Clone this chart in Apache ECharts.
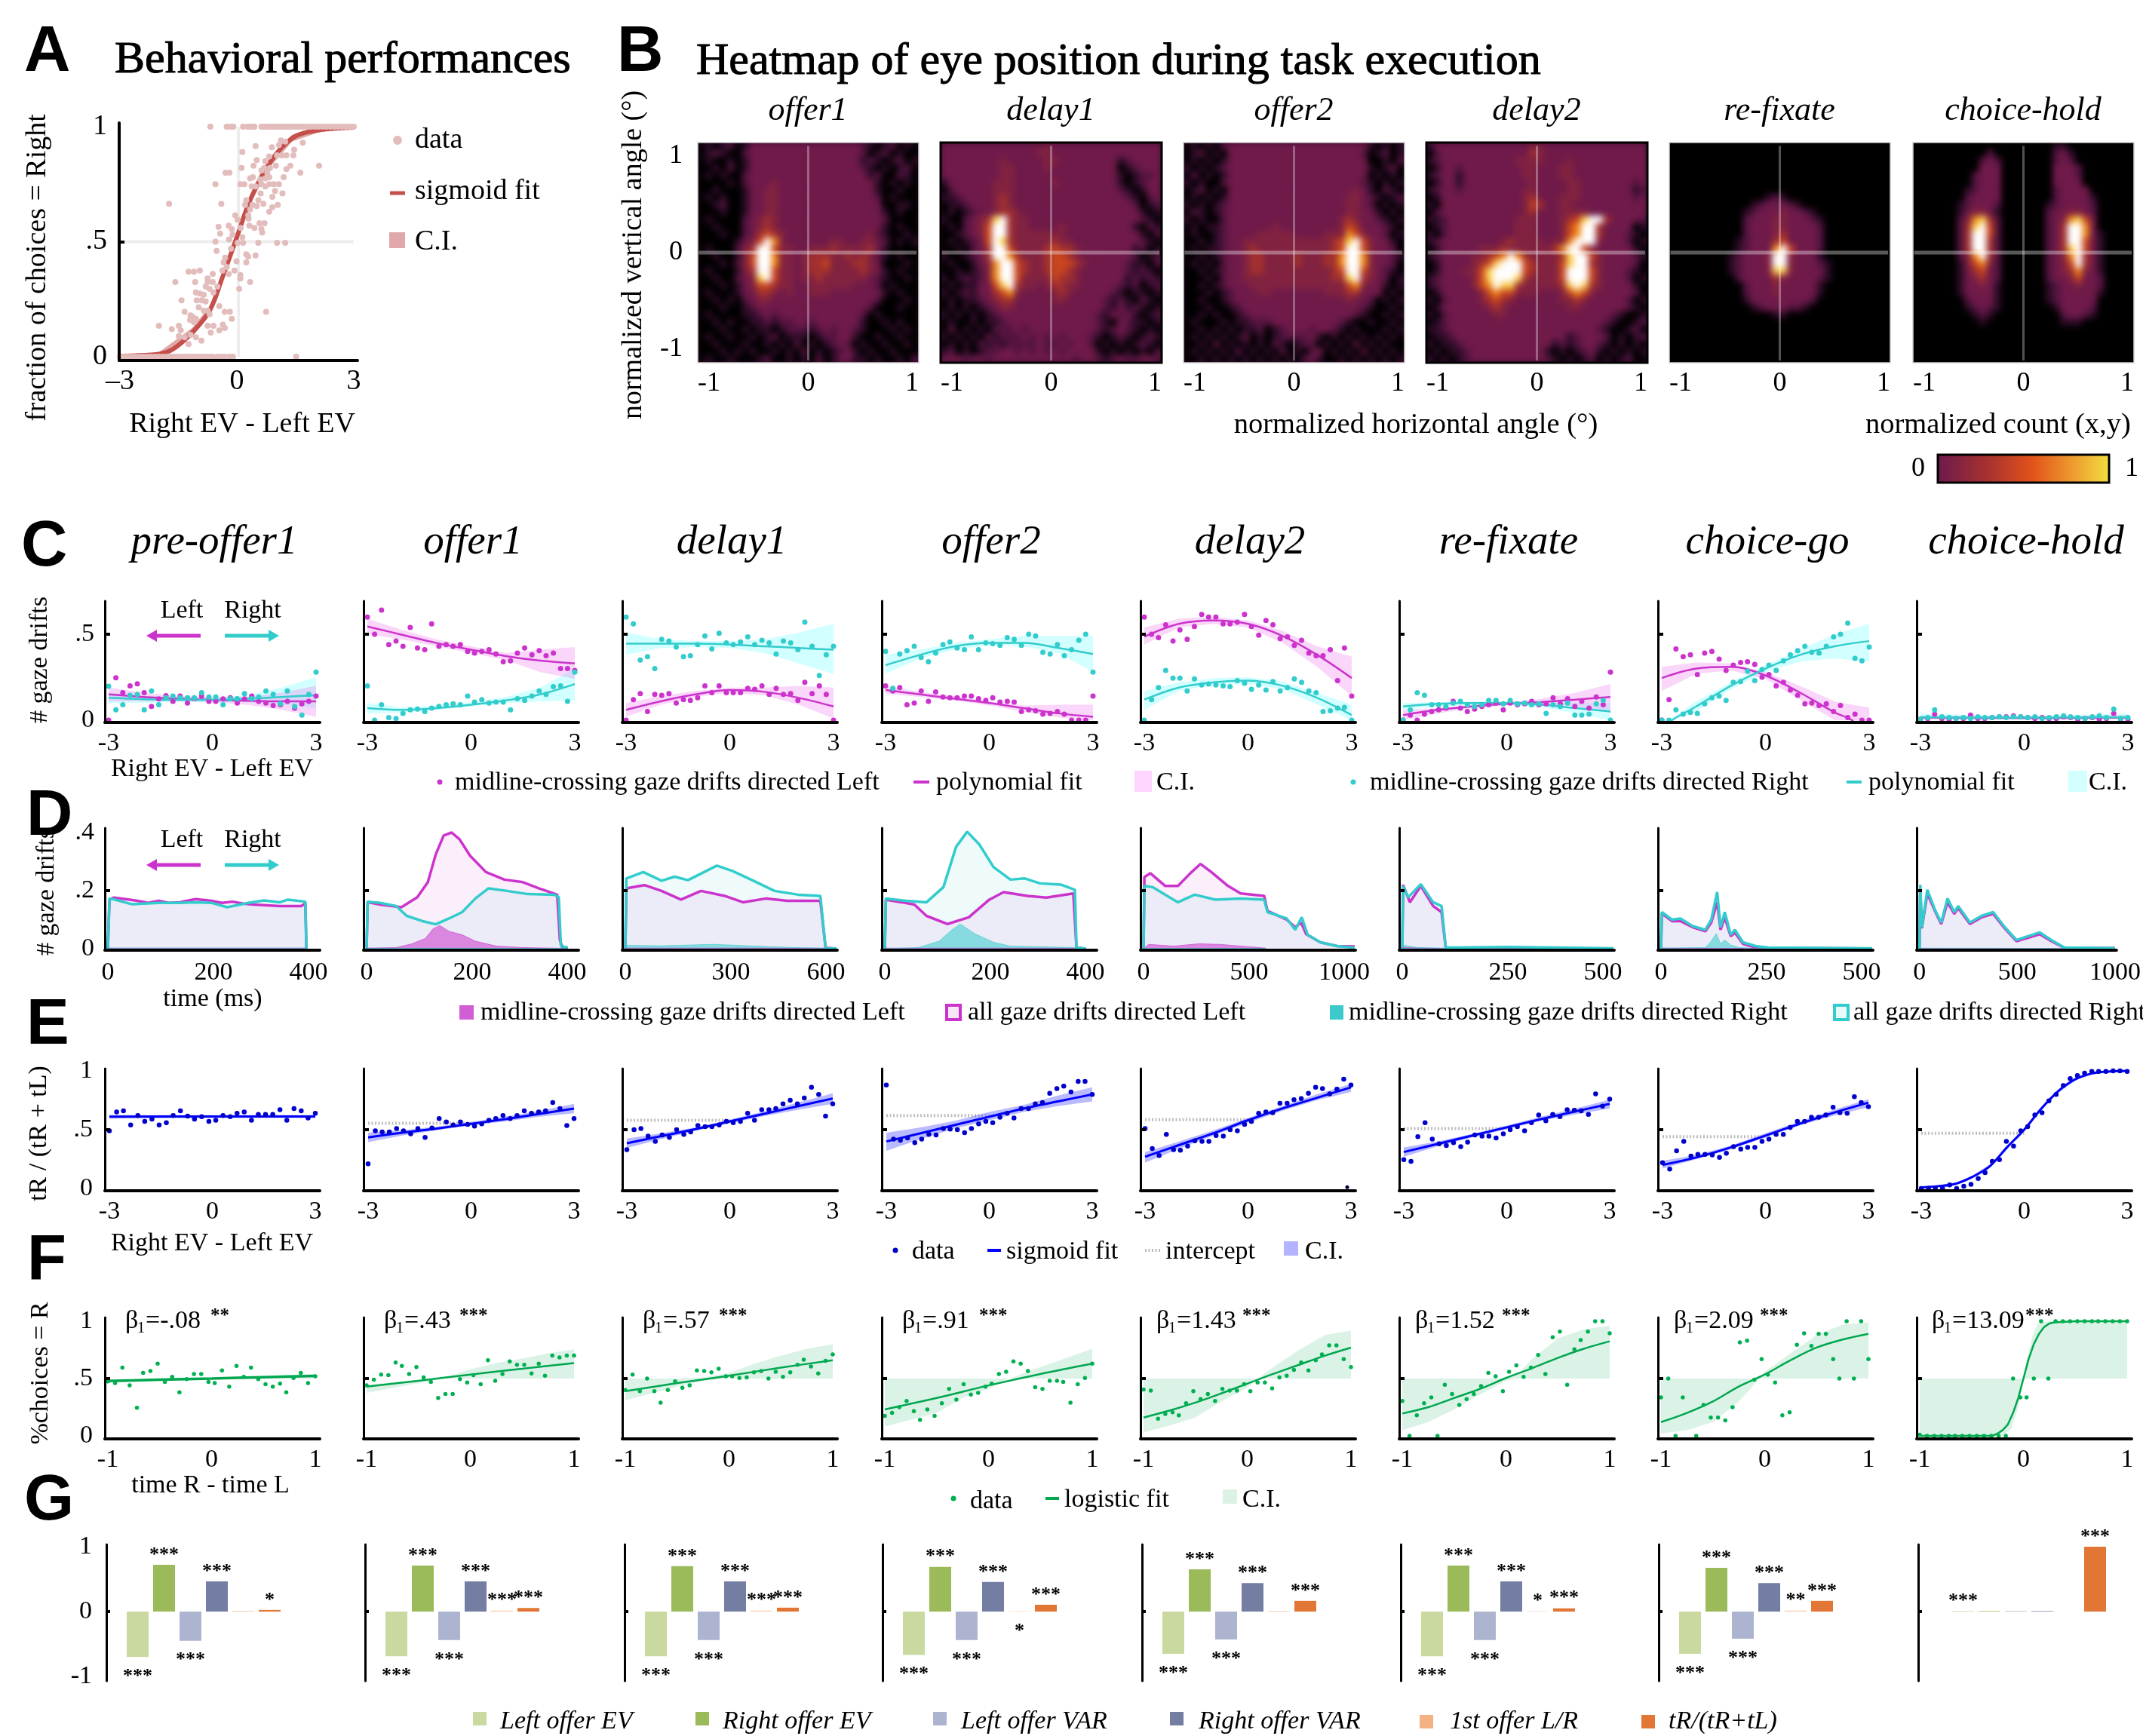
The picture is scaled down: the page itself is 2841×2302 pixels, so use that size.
<!DOCTYPE html>
<html><head><meta charset="utf-8"><style>html,body{margin:0;padding:0;background:#fff}#c{width:2841px;height:2302px}
canvas[data-zr-dom-id="zr_1"]{filter:blur(4px);clip-path:path('M925 189h293v292h-293z M1247 189h293v292h-293z M1569 189h293v292h-293z M1891 189h293v292h-293z M2213 189h293v292h-293z M2536 189h293v292h-293z');}
</style>
<script src="https://cdn.jsdelivr.net/npm/echarts@6/dist/echarts.min.js"></script></head><body><div id="c"></div>
<script>
// ---------- DATA ----------
const evBins=[-3,-2.79,-2.59,-2.38,-2.17,-1.97,-1.76,-1.55,-1.34,-1.14,-.93,-.72,-.52,-.31,-.1,.1,.31,.52,.72,.93,1.14,1.34,1.55,1.76,1.97,2.17,2.38,2.59,2.79,3];
const timeBins=[-1,-.93,-.86,-.79,-.72,-.66,-.59,-.52,-.45,-.38,-.31,-.24,-.17,-.1,-.03,.03,.1,.17,.24,.31,.38,.45,.52,.59,.66,.72,.79,.86,.93,1];
const cTitles=['pre-offer1','offer1','delay1','offer2','delay2','re-fixate','choice-go','choice-hold'];
const bTitles=['offer1','delay1','offer2','delay2','re-fixate','choice-hold'];
// Panel A
const aPts=[[2.11,.83],[1.69,.93],[1.63,.8],[1.37,.83],[1.27,.815],[1.2,.78],[1.17,.71],[1.45,.875],[1.47,.9],[1.27,.875],[1.15,.875],[1.03,.875],[1.24,.935],[1.13,.94],[1.08,.92],[.9,.91],[.83,.87],[.73,.85],[.51,.855],[.43,.83],[.48,.915],[.14,.89],[.12,.82],[-.19,.8],[-.29,.8],[-.55,.75],[.09,.75],[.19,.75],[.34,.775],[.41,.78],[.63,.81],[.78,.8],[.83,.78],[.73,.775],[.63,.75],[.73,.74],[.83,.75],[.95,.75],[1.08,.75],[.98,.72],[.91,.695],[1.05,.66],[.91,.65],[.83,.63],[.68,.665],[.55,.68],[.61,.71],[.48,.74],[.38,.74],[.24,.68],[.21,.66],[.34,.64],[.51,.655],[-1.74,.665],[-.4,.665],[-.04,.615],[.02,.595],[.29,.615],[.58,.58],[.71,.58],[.63,.555],[.65,.54],[.32,.57],[.45,.56],[-.47,.565],[-.21,.57],[-.13,.555],[-.43,.535],[-.11,.53],[.14,.52],[.16,.495],[-.55,.5],[.02,.495],[.55,.495],[1.03,.495],[1.24,.495],[-.52,.46],[.24,.445],[.48,.44],[.29,.435],[-.01,.415],[.24,.41],[-.34,.41],[-.26,.39],[-.06,.375],[-.37,.375],[-1.24,.37],[-1.1,.37],[-.95,.375],[-.62,.36],[-.21,.36],[.09,.355],[.09,.34],[-.75,.34],[-1.58,.325],[-1.07,.325],[-.75,.325],[-.62,.325],[.34,.325],[-.8,.305],[-.5,.305],[-.7,.295],[.06,.295],[-1.05,.28],[-.95,.275],[-.85,.27],[-1.42,.245],[-1.03,.245],[-.9,.245],[-.8,.24],[-.45,.22],[-.98,.215],[-1.34,.195],[-1.19,.18],[-1.14,.175],[-1.05,.165],[-.75,.2],[-.7,.185],[-.31,.195],[-.18,.195],[.75,.195],[-.13,.165],[-1.49,.135],[-2,.135],[-1.67,.12],[-1.44,.115],[-.75,.135],[-.6,.135],[-.36,.14],[-.31,.125],[-.45,.115],[-.67,.105],[-1.19,.095],[-1.05,.085],[-.91,.07],[-1.24,.055],[-1.34,.085],[-1.49,.09],[-1.1,.15],[-1.2,.16],[-.15,.47],[-.2,.51],[.1,.56],[.3,.6],[.4,.66],[.6,.77],[.7,.82],[.85,.82],[1,.83],[-.3,.43],[-.6,.28],[-.85,.2]];
const aOnes=[-.68,-.26,-.16,-.09,.16,.27,.33,.38,.45,.63,.68,.73,.78,.85,.9,.95,1,1.05,1.1,1.15,1.2,1.25,1.3,1.36,1.42,1.48,1.55,1.62,1.7,1.8,1.9,2,2.1,2.2,2.3,2.4,2.5,2.6,2.7,2.8,2.9,3];
const aZeros=[-3,-2.9,-2.8,-2.7,-2.6,-2.5,-2.4,-2.3,-2.2,-2.1,-2,-1.9,-1.8,-1.7,-1.6,-1.5,-1.42,-1.34,-1.26,-1.18,-1.1,-1.02,-.94,-.86,-.78,-.7,-.62,-.5,-.42,-.32,-.2,-.14,-.1,1.52];
const aFit=[[-3,.003],[-2.5,.006],[-2,.012],[-1.64,.033],[-1.15,.105],[-.7,.2],[-.36,.35],[0,.52],[.34,.68],[.83,.84],[1.42,.95],[2.1,.985],[3,.996]];
const aBand=[[-3,0,.01],[-2,.005,.02],[-1.15,.085,.125],[-.7,.18,.22],[-.36,.335,.365],[0,.505,.535],[.34,.665,.695],[.83,.82,.86],[1.42,.935,.965],[2.1,.975,.995],[3,.99,1]];
// Panel B: heat levels, one string per row, top row first
const heat1=["010120133333333333333321012010","012100233333333333333320120100","010010133333333333333312101201","001020133333333333333321010120","010100233333333333333331200210","000010233343333333333333101010","001000133443333333333333100100","010100133443333333333333201000","001200133443333333333333300110","000100133443333333333333310100","010000234543333333333333320000","001000234543333333333333310100","000100235654333333333334210010","000001346974333333443344320101","010002459964433444544445310000","001001469974434555445454210100","000102469974434556444554300010","010001459964434555444454310100","001002348964434454444443210010","000101346654433444444333201000","010001335543433444333333310100","001010234433333333333333200010","000100123333333333333332000100","010000112323333333333320100000","001010011212233233333310010100","000100101101222123233210001010","010010010120111012233100100100","001000100101020101232010010010","000101010010102010123101001000","010010001200101020133110100102"];
const heat2=["333333333333334333333333333333","333333333333344333333333333333","333333334333334433333333123333","333333334433334333333333012333","333333334433333333333333101223","133333344433333433333333101233","023333344433333333333333210133","112333345433333333333333321023","011233345433333333333333332012","010123345543333333333333333101","100234589544333333333333333210","010234699544333343333333331021","001234699544444443333333333102","010123698544444544333333333210","001023599644445655433333331201","100123599754445665433333332012","010013479965445666543333321102","001012479965445665433333321210","101212479964444655433333312121","010113368954434554433333212012","101213356743333454333332101101","010112345533333443333321210210","010101234433333333333321312101","101010123333333333333213231012","010010112333333333333210321101","020101022232333333333212321010","101010212223232323332101210121","010102121222232232332010101210","120101223323232323333101010102","333233233333333333233212322332"];
const heat3=["010102333333333333333333310101","012010333333333333333333201201","010101333333333333333333300102","101012333333333333333333310120","020101333333333333333333301010","101002333333333333333333210101","012010333333333333333334310210","010101333333333333333344321012","101012333333333333333344320101","021012333333333333333344331010","101002333333333333333454332101","010112333333433333333465333210","010012333344444333344476433201","001012334444444444445689643310","010112334544444444445699643320","001012334554444544455799743321","010102334554444544455799743320","001012334554444444445699643210","000102334444444444445589543201","001012333444444444444467433101","000101233344333333344455333010","001001233333333333333343320101","000100123333333333333333210010","001010012333333333333332100101","010001011222333333333210010010","001010101120123332332101000101","010101012010122223101010101010","001020101010210122010102010100","010101020101020102301010201010","001010101010101023100101010101"];
const heat4=["133333333333334433333333333333","023333333333335433333333333333","123333333333444433343333333333","013323333333344333443333333333","123313333333344333443333333333","013313333333334333344333333323","123323333333344333344333333312","013333333333345333444333333323","103333333333346533443333333333","023333333333345333444433333333","112333333333444333456899533332","012333333333444333467995333301","102333333333444333467995333210","123333333345444434479994333201","013333344454444445799643333310","123333445679754444589964333321","013333456899965444689954333320","013334468999965444699964333210","123333468999854444699964333201","123333467988544444589854333310","013333346766444333467643333320","102333345654333333445433333201","013333334543333333344333333210","102333333443333333333333321001","012333333333333333333333210012","112333333333333333333332100120","011233333333333333312333201012","101123333333333331212332101010","010112333333333310101231010101","101012333333333321010120101200"];
const heat5=["000000000000000000000000000000","000000000000000000000000000000","000000000000000000000000000000","000000000000000000000000000000","000000000000000000000000000000","000000000000000000000000000000","000000000000000000000000000000","000000000000012100000000000000","000000000001233321000000000000","000000000012333433210000000000","000000000023334433321000000000","000000000023334433332000000000","000000000023334533332000000000","000000000123335633332000000000","000000000123337963332000000000","000000001233349943331000000000","000000001233349943332100000000","000000001233348843333100000000","000000000233335433332100000000","000000000023334333331000000000","000000000023334333331000000000","000000000013333333320000000000","000000000001233322100000000000","000000000000001100000000000000","000000000000000000000000000000","000000000000000000000000000000","000000000000000000000000000000","000000000000000000000000000000","000000000000000000000000000000","000000000000000000000000000000"];
const heat6=["000000000000000000011000000000","000000000020000000023100000000","000000000232000000023200000000","000000000333000000033320000000","000000002333000000033320000000","000000002333000000033330000000","000000012333000000023333000000","000000023333000000023333100000","000000123332000000123333200000","000000134431000000233443200000","000000247852000000234786300000","000000258962000000235997300000","000000259962000000235997310000","000000259952000000235996310000","000000259952000000235896310000","000000247952000000234795310000","000000146742000000234695310000","000000135632000000234574310000","000000134532000000233463320000","000000133431000000123343320000","000000133331000000123333310000","000000023331000000123333300000","000000012321000000013333200000","000000001210000000002332100000","000000000100000000001110000000","000000000000000000000000000000","000000000000000000000000000000","000000000000000000000000000000","000000000000000000000000000000","000000000000000000000000000000"];
const heatLevels=[heat1,heat2,heat3,heat4,heat5,heat6];
const heatColors=['#000000','#2e0c28','#551440','#701a4a','#822240','#a2302f','#c9461f','#f08a18','#fbd050','#ffffff'];
// Panel C
const cLeft=[
[0,.247,.16,.2,.212,.16,.08,.124,.143,.11,.14,.1,.127,.14,.11,.11,.124,.13,.1,.124,.14,.11,.1,.085,.09,.11,.07,.095,.11,.14],
[.6,.5,.64,.44,.46,.43,.54,.42,.41,.56,.43,.44,.43,.44,.4,.39,.4,.41,.385,.34,.345,.39,.42,.38,.405,.375,.39,.3,.3,.29],
[0,.12,.155,.05,.15,.145,.155,.1,.12,.115,.13,.2,.16,.2,.16,.16,.16,.185,.18,.2,.15,.185,.15,.155,.115,.22,.155,.2,.15,0],
[.2,.17,.19,.09,.1,.17,.11,.165,.135,.13,.13,.14,.14,.125,.115,.13,.105,.11,.105,.05,.06,.055,.035,.04,.05,.035,0,0,0,.14],
[.6,.5,.48,.555,.46,.525,.47,.545,.615,.6,.6,.56,.56,.57,.615,.545,.495,.58,.555,.475,.485,.435,.465,.39,.375,.375,.41,.23,.42,.14],
[0,.03,0,.035,.05,.06,.07,.11,.07,.05,.065,.08,.09,.1,.06,.1,.09,.095,.11,.09,.095,.13,.095,.125,.08,.11,.07,.135,.09,.28],
[0,.12,.415,.37,.38,.265,.39,.4,.355,.29,.32,.335,.34,.325,.25,.265,.2,.22,.175,.145,.095,.1,.085,.095,.05,.085,.015,.035,0,0],
[.005,.01,.035,.01,.005,.01,.01,.03,.01,.01,.015,.02,.02,.025,.02,.015,.01,.015,.01,.01,.02,.015,.005,.01,.015,.005,.01,.04,.005,.005]];
const cRight=[
[.197,.06,.09,.145,.15,.06,.17,.09,.13,.14,.13,.13,.13,.16,.135,.135,.09,.125,.125,.155,.125,.135,.17,.15,.095,.17,.08,.03,.15,.28],
[.2,0,.09,.015,.01,.04,.06,.065,.05,.07,.08,.09,.095,.09,.14,.105,.12,.1,.105,.105,.06,.125,.115,.14,.17,.15,.195,.2,.11,.28],
[.6,.56,.35,.37,.3,.47,.46,.425,.37,.375,.44,.49,.415,.505,.45,.44,.455,.485,.44,.465,.45,.385,.46,.45,.41,.57,.43,.26,.38,.43],
[.4,.185,.385,.405,.43,.365,.34,.39,.44,.455,.42,.41,.485,.41,.45,.445,.435,.48,.47,.435,.5,.49,.395,.385,.44,.375,.41,.465,.5,.28],
[0,.12,.19,.29,.245,.245,.17,.24,.205,.21,.205,.2,.195,.23,.215,.18,.205,.175,.225,.17,.19,.24,.22,.17,.16,.05,.055,.07,.075,0],
[0,.06,.16,.145,.09,.09,.08,.1,.11,.09,.08,.09,.115,.115,.095,.115,.095,.1,.09,.095,.04,.09,.08,.1,.03,.03,.035,.095,.115,0],
[0,0,.06,.035,.045,.04,.095,.13,.14,.115,.22,.225,.285,.23,.295,.32,.29,.345,.38,.405,.43,.395,.39,.43,.485,.5,.565,.36,.345,.425],
[.005,.015,.06,.02,.015,.01,.015,.01,.02,.015,.015,.02,.015,.02,.02,.015,.02,.01,.015,.02,.025,.02,.015,.01,.02,.025,.015,.065,.01,.015]];
// rows: [x, fit, lower, upper]
const cLeftFit=[
[[-3,.15,.11,.19],[-2,.135,.11,.16],[-1,.125,.11,.14],[0,.118,.105,.135],[1,.113,.09,.135],[2,.11,.06,.16],[3,.11,.02,.2]],
[[-3,.545,.5,.59],[-2,.497,.47,.525],[-1,.449,.43,.47],[0,.41,.39,.43],[1,.373,.35,.39],[2,.346,.28,.41],[3,.33,.24,.425]],
[[-3,.06,.02,.1],[-2,.11,.09,.14],[-1,.15,.135,.17],[0,.175,.16,.19],[1,.165,.145,.19],[2,.13,.09,.2],[3,.08,.01,.19]],
[[-3,.175,.155,.2],[-2,.15,.135,.165],[-1,.125,.115,.14],[0,.1,.085,.11],[1,.07,.05,.085],[2,.04,.015,.09],[3,.02,0,.09]],
[[-3,.485,.44,.54],[-2,.56,.54,.59],[-1,.58,.56,.6],[0,.56,.54,.58],[1,.49,.45,.52],[2,.38,.31,.43],[3,.245,.14,.37]],
[[-3,.03,0,.06],[-2,.06,.04,.07],[-1,.08,.07,.09],[0,.095,.085,.105],[1,.105,.09,.125],[2,.12,.08,.16],[3,.135,.045,.21]],
[[-3,.245,.17,.31],[-2,.3,.27,.335],[-1,.31,.29,.33],[0,.26,.24,.28],[1,.16,.12,.2],[2,.045,0,.11],[2.5,0,0,.09],[3,-.1,0,.075]],
[[-3,.015,.005,.025],[0,.012,.005,.02],[3,.015,.005,.03]]];
const cRightFit=[
[[-3,.13,.1,.16],[-2,.122,.1,.14],[-1,.118,.105,.135],[0,.118,.105,.13],[1,.125,.105,.145],[2,.135,.09,.19],[3,.145,.07,.25]],
[[-3,.07,.04,.1],[-2,.06,.045,.075],[-1,.07,.06,.085],[0,.09,.08,.105],[1,.115,.1,.135],[2,.15,.11,.19],[3,.21,.115,.3]],
[[-3,.445,.38,.51],[-2,.445,.42,.47],[-1,.445,.425,.46],[0,.44,.42,.46],[1,.43,.39,.47],[2,.42,.33,.51],[3,.41,.27,.56]],
[[-3,.32,.27,.38],[-2,.38,.36,.41],[-1,.43,.41,.45],[0,.45,.435,.47],[1,.45,.43,.49],[2,.42,.39,.49],[3,.385,.28,.49]],
[[-3,.12,.06,.17],[-2,.19,.17,.22],[-1,.22,.205,.245],[0,.23,.21,.25],[1,.2,.18,.225],[2,.13,.09,.16],[3,.03,0,.09]],
[[-3,.08,.06,.1],[-2,.095,.08,.105],[-1,.1,.09,.11],[0,.1,.09,.11],[1,.09,.075,.105],[2,.07,.04,.1],[3,.05,0,.1]],
[[-3,-.06,0,0],[-2.7,0,0,.015],[-2,.08,.05,.11],[-1,.2,.18,.22],[0,.3,.28,.32],[1,.38,.34,.41],[2,.43,.36,.5],[3,.46,.34,.56]],
[[-3,.018,.005,.04],[0,.015,.008,.022],[3,.018,.005,.04]]];
// Panel D: [time ms, value]
const dLeftAll=[
[[0,0],[1,0],[3,.169],[11,.176],[36,.17],[56,.165],[76,.158],[96,.165],[116,.158],[136,.16],[166,.171],[196,.165],[216,.158],[236,.162],[256,.155],[276,.152],[326,.147],[366,.147],[374,.156],[376,0]],
[[0,0],[2,.16],[26,.152],[66,.143],[96,.177],[116,.229],[131,.325],[146,.39],[161,.4],[176,.377],[196,.32],[226,.264],[261,.238],[296,.229],[326,.208],[361,.186],[366,.03],[371,.004],[381,0]],
[[0,0],[3,.208],[54,.219],[103,.199],[158,.169],[215,.199],[282,.182],[334,.16],[401,.173],[460,.165],[554,.165],[569,.003],[600,0]],
[[0,0],[2,.169],[32,.16],[56,.152],[79,.113],[119,.085],[159,.108],[198,.169],[225,.195],[270,.182],[306,.176],[357,.19],[363,.004],[381,0]],
[[0,0],[4,.247],[32,.26],[103,.216],[163,.216],[222,.26],[270,.292],[321,.264],[400,.216],[460,.19],[571,.182],[587,.13],[678,.1],[718,.074],[746,.09],[770,.05],[837,.022],[916,.009],[1000,.008]],
[[0,0],[2,.22],[18,.16],[44,.216],[73,.147],[93,.126],[103,.003],[252,.003],[500,0]],
[[0,0],[2,.121],[26,.095],[46,.095],[75,.074],[105,.06],[119,.09],[133,.16],[141,.065],[151,.108],[165,.043],[175,.055],[194,.017],[224,.004],[500,0]],
[[0,0],[4,.2],[12,.07],[40,.19],[79,.13],[111,.085],[143,.16],[178,.12],[198,.14],[258,.085],[317,.108],[377,.12],[436,.07],[496,.026],[615,.05],[674,.026],[741,.003],[1000,.002]]];
const dRightAll=[
[[0,0],[1,0],[3,.173],[11,.17],[46,.153],[96,.158],[136,.158],[166,.16],[196,.158],[226,.143],[266,.158],[296,.166],[326,.16],[341,.169],[374,.162],[376,0]],
[[0,0],[2,.162],[26,.158],[56,.147],[76,.113],[106,.095],[131,.084],[156,.104],[181,.126],[206,.173],[231,.208],[266,.199],[306,.188],[356,.186],[364,.177],[368,.009],[381,.004]],
[[0,0],[3,.242],[51,.264],[103,.234],[140,.248],[178,.236],[260,.286],[304,.268],[357,.238],[424,.199],[491,.186],[554,.182],[569,0],[600,.001]],
[[0,0],[2,.173],[40,.165],[79,.16],[111,.212],[135,.351],[156,.403],[179,.359],[206,.281],[238,.238],[265,.242],[294,.225],[333,.221],[360,.203],[363,.004],[381,0]],
[[0,0],[4,.216],[44,.212],[103,.186],[163,.16],[242,.186],[341,.169],[460,.173],[571,.169],[587,.126],[678,.104],[718,.065],[749,.108],[777,.048],[837,.022],[916,.009],[1000,.003]],
[[0,0],[2,.216],[14,.177],[44,.222],[73,.16],[93,.147],[103,.004],[123,.004],[252,.006],[500,.001]],
[[0,0],[2,.126],[26,.1],[46,.104],[75,.078],[105,.065],[119,.1],[133,.195],[141,.074],[151,.126],[165,.048],[175,.065],[194,.022],[224,.009],[254,.004],[500,.001]],
[[0,0],[4,.22],[12,.074],[40,.203],[79,.134],[111,.09],[143,.173],[178,.126],[198,.147],[258,.09],[317,.113],[377,.126],[436,.074],[496,.03],[615,.056],[674,.03],[741,.004],[1000,.002]]];
const dLeftCross=[
[[0,.002],[376,.002]],
[[0,.002],[56,.004],[86,.017],[111,.035],[126,.069],[139,.08],[156,.06],[181,.048],[206,.026],[246,.009],[296,.004],[356,.002],[381,.001]],
[[0,.002],[569,.002]],
[[0,.002],[363,.002]],
[[0,0],[24,.015],[143,.009],[262,.017],[361,.015],[460,.009],[579,.002]],
[[0,.004],[103,.001]],[[0,.002],[220,.001]],[[0,.001],[741,.001]]];
const dRightCross=[
[[0,.002],[376,.002]],
[[0,.002],[381,.001]],
[[0,.012],[100,.01],[250,.015],[350,.01],[480,.004],[569,.002]],
[[0,0],[63,.004],[103,.026],[127,.065],[143,.085],[170,.052],[206,.022],[238,.009],[357,.004],[381,0]],
[[0,.001],[579,.001]],
[[0,.013],[34,.004],[103,.002]],
[[0,.002],[105,.004],[119,.026],[131,.052],[141,.017],[151,.03],[165,.013],[185,.004],[250,0]],
[[0,.002],[741,.001]]];
const dTicks=[[0,200,400],[0,200,400],[0,300,600],[0,200,400],[0,500,1000],[0,250,500],[0,250,500],[0,500,1000]];
// Panel E
const eDots=[
[.49,.65,.66,.54,.62,.57,.59,.54,.56,.62,.66,.615,.59,.61,.57,.58,.62,.61,.64,.65,.58,.63,.63,.63,.67,.58,.68,.66,.6,.64],
[.21,.49,.48,.48,.51,.49,.465,.51,.435,.515,.595,.565,.54,.565,.545,.53,.55,.58,.595,.62,.595,.62,.66,.64,.65,.66,.73,.68,.535,.595],
[.33,.5,.51,.445,.4,.455,.435,.5,.46,.48,.535,.525,.525,.54,.57,.56,.57,.64,.58,.67,.67,.68,.72,.75,.72,.77,.86,.8,.615,.72],
[.88,.42,.41,.43,.39,.42,.46,.455,.51,.505,.5,.475,.51,.55,.57,.56,.605,.64,.6,.68,.68,.72,.73,.81,.85,.87,.82,.91,.91,.8],
[.51,.34,.28,.46,.33,.325,.36,.405,.4,.4,.45,.445,.5,.49,.545,.57,.64,.65,.645,.725,.725,.755,.765,.81,.86,.85,.805,.845,.93,.88],
[.245,.23,.44,.56,.42,.38,.365,.39,.355,.395,.455,.445,.445,.43,.465,.5,.525,.49,.56,.625,.575,.63,.61,.67,.665,.66,.63,.805,.7,.76],
[.22,.165,.32,.4,.275,.29,.29,.285,.265,.3,.355,.335,.35,.35,.4,.42,.46,.46,.52,.57,.57,.605,.605,.625,.69,.645,.64,.78,.73,.695],
[0,0,0,0,.03,0,.02,.035,.085,.135,.23,.245,.4,.36,.49,.525,.625,.645,.745,.8,.875,.935,.96,.98,.995,.995,.995,1,1,.995]];
const eStray=[[2.89,.012]];
const eFit=[
[[-3,.61,.595,.625],[0,.612,.6,.624],[3,.612,.6,.625]],
[[-3,.435,.395,.475],[-2,.475,.45,.495],[-1,.51,.495,.525],[0,.55,.535,.565],[1,.59,.57,.61],[2,.635,.61,.66],[3,.68,.64,.72]],
[[-3,.385,.345,.425],[-2,.445,.42,.47],[-1,.505,.49,.52],[0,.57,.555,.585],[1,.635,.615,.655],[2,.7,.67,.73],[3,.765,.72,.81]],
[[-3,.4,.32,.475],[-2,.47,.42,.52],[-1,.54,.51,.575],[0,.61,.58,.65],[1,.68,.65,.71],[2,.74,.7,.79],[3,.8,.74,.86]],
[[-3,.27,.22,.31],[-2,.37,.34,.4],[-1,.47,.45,.495],[0,.58,.56,.6],[1,.68,.66,.7],[2,.77,.75,.8],[3,.86,.82,.89]],
[[-3,.31,.27,.35],[-2,.38,.36,.4],[-1,.45,.435,.465],[0,.52,.505,.535],[1,.59,.575,.61],[2,.655,.63,.68],[3,.72,.68,.755]],
[[-3,.2,.17,.235],[-2,.265,.25,.285],[-1,.35,.335,.365],[0,.45,.435,.47],[1,.55,.535,.57],[2,.645,.62,.67],[3,.73,.69,.76]],
[[-3,.01,0,.02],[-2.5,.02,.01,.03],[-2,.04,.03,.05],[-1.5,.1,.09,.11],[-1,.19,.175,.205],[-.5,.35,.335,.365],[0,.5,.485,.515],[.5,.68,.665,.695],[1,.83,.815,.845],[1.5,.93,.92,.94],[2,.98,.97,.99],[2.5,.995,.985,1],[3,1,.99,1]]];
const eIntercept=[.615,.555,.58,.62,.585,.51,.44,.47];
// Panel F
const fDots=[
[.475,.46,.595,.44,.245,.55,.565,.63,.47,.515,.38,.495,.54,.54,.47,.46,.57,.43,.61,.515,.595,.495,.45,.43,.455,.38,.505,.55,.46,.52],
[.44,.49,.535,.53,.64,.61,.54,.6,.51,.47,.33,.365,.365,.495,.465,.53,.45,.66,.48,.54,.65,.62,.62,.545,.63,.525,.7,.685,.7,.7],
[.4,.535,.39,.5,.39,.29,.4,.475,.42,.44,.57,.565,.555,.585,.52,.52,.505,.51,.555,.565,.5,.56,.515,.555,.62,.665,.605,.545,.655,.71],
[.175,.2,.25,.305,.215,.14,.23,.175,.285,.41,.315,.45,.36,.375,.43,.455,.54,.56,.65,.63,.565,.425,.41,.48,.48,.47,.29,.45,.505,.63],
[.405,.395,.15,.19,.205,.18,.285,.39,.32,.365,.305,.41,.395,.395,.45,.39,.465,.465,.415,.51,.525,.575,.64,.57,.66,.71,.79,.79,.67,.6],
[.305,0,.18,.285,.335,0,.445,.365,.27,.32,.365,.435,.55,.52,.39,.56,.615,.515,.595,.705,.54,.86,.91,.445,.755,.835,.91,1,1,.895],
[.335,.5,0,.335,null,0,.27,.16,.16,.135,.25,.815,.83,.49,.67,.535,.465,.18,.205,.795,.895,.785,.89,.89,.67,.5,1,.5,1,.67],
[.01,0,0,0,0,0,0,0,0,0,0,0,0,.5,.335,.335,.5,1,.5,1,1,1,1,1,1,1,1,1,1,1]];
const fLine=[
[[-1,.478],[-.5,.49],[0,.5],[.5,.512],[1,.523]],
[[-1,.43],[-.5,.48],[0,.535],[.5,.585],[1,.635]],
[[-1,.39],[-.5,.46],[0,.525],[.5,.595],[1,.66]],
[[-1,.23],[-.5,.33],[0,.44],[.5,.54],[1,.63]],
[[-1,.16],[-.75,.22],[-.5,.29],[-.25,.37],[0,.455],[.25,.54],[.5,.62],[.75,.7],[1,.77]],
[[-1,.195],[-.75,.25],[-.5,.33],[-.25,.41],[0,.505],[.25,.59],[.5,.68],[.75,.76],[1,.825]],
[[-1,.12],[-.75,.2],[-.5,.3],[-.25,.43],[0,.535],[.25,.66],[.5,.77],[.75,.84],[1,.89]],
[[-1,0],[-.3,0],[-.25,.02],[-.2,.05],[-.15,.1],[-.1,.2],[-.05,.33],[0,.5],[.05,.67],[.1,.8],[.15,.89],[.2,.95],[.25,.98],[.3,.99],[.5,1],[1,1]]];
const fBand=[
[[-1,.465,.49],[0,.495,.505],[.5,.5,.525],[1,.5,.54]],
[[-1,.375,.445],[-.5,.46,.49],[-.25,.5,.51],[0,.5,.58],[.25,.5,.635],[.5,.5,.675],[.75,.5,.72],[1,.5,.755]],
[[-1,.31,.5],[-.5,.43,.5],[-.25,.48,.51],[0,.5,.55],[.25,.5,.63],[.5,.5,.7],[.75,.5,.76],[1,.5,.8]],
[[-1,.08,.5],[-.5,.2,.5],[-.25,.33,.5],[0,.41,.5],[.2,.5,.5],[.5,.5,.6],[.75,.5,.68],[1,.5,.76]],
[[-1,.03,.5],[-.75,.09,.5],[-.5,.16,.5],[-.25,.3,.5],[0,.42,.5],[.1,.5,.5],[.25,.5,.6],[.5,.5,.75],[.75,.5,.88],[1,.5,.92]],
[[-1,.05,.5],[-.75,.12,.5],[-.5,.23,.5],[-.25,.36,.5],[0,.48,.5],[.1,.5,.53],[.25,.5,.67],[.5,.5,.85],[.75,.5,.93],[1,.5,.96]],
[[-1,.02,.5],[-.75,.05,.5],[-.5,.12,.5],[-.25,.3,.5],[-.05,.5,.5],[0,.5,.56],[.25,.5,.72],[.5,.5,.88],[.75,.5,.97],[1,.5,.99]],
[[-1,0,.5],[-.2,0,.5],[-.12,.06,.5],[-.05,.25,.5],[0,.5,.5],[.03,.5,.65],[.09,.5,.88],[.14,.5,.98],[.25,.5,1],[1,.5,1]]];
const fBetas=['=-.08','=.43','=.57','=.91','=1.43','=1.52','=2.09','=13.09'];
const fStars=['**','***','***','***','***','***','***','***'];
// Panel G
const gNames=['Left offer EV','Right offer EV','Left offer VAR','Right offer VAR','1st offer L/R','tR/(tR+tL)'];
const gColors=['#c9d9a0','#9bba59','#adb4cf','#747ea3','#f7cdb0','#e27735'];
const gValues=[
[-.7,.72,-.45,.465,.012,.025],[-.69,.71,-.44,.465,.015,.055],[-.69,.7,-.44,.465,.015,.06],[-.67,.69,-.44,.455,.005,.105],
[-.65,.65,-.43,.44,.01,.165],[-.69,.71,-.44,.465,.005,.05],[-.65,.675,-.42,.44,.015,.165],[.008,.008,.008,.008,0,1]];
const gStars=[
['***','***','***','***','','*'],['***','***','***','***','***','***'],['***','***','***','***','***','***'],['***','***','***','***','v*','***'],
['***','***','***','***','','***'],['***','***','***','***','*','***'],['***','***','***','***','**','***'],['***','','','','','***']];

// ---------- STYLE / LAYOUT ----------
const SERIF='"Liberation Serif"', SANS='"Liberation Sans"';
const MAG='#cc33cc', CY='#33cccc';
const rowLefts=[139,482,825,1169,1512,1855,2198,2541];
const opt={animation:false,backgroundColor:'#fff',grid:[],xAxis:[],yAxis:[],series:[],visualMap:[],graphic:{elements:[]}};
const G=opt.graphic.elements;
const fmt=v=>String(v).replace(/^0\./,'.').replace(/^-0\./,'-.');

function T(text,x,y,o={}){
  const font=(o.italic?'italic ':'')+(o.bold?'bold ':'')+(o.size||34)+'px '+(o.family||SERIF);
  const st={text,font,fill:o.color||'#000',x:0,y:0,textAlign:o.align||'left',textVerticalAlign:o.va||'middle',align:o.align||'left',verticalAlign:o.va||'middle'};
  if(o.stroke){st.stroke='#000';st.lineWidth=o.stroke;}
  // the stand-in serif sits slightly higher than the original face
  const nudgeY=o.family||o.rot?0:2, nudgeX=o.rot?2:0;
  G.push({type:'text',x:x+nudgeX,y:y+nudgeY,rotation:o.rot||0,silent:true,z:20,style:st});
}
const Dot=(cx,cy,r,c)=>G.push({type:'circle',silent:true,z:20,shape:{cx,cy,r},style:{fill:c}});
const Box=(x,y,w,h,f,s,lw)=>G.push({type:'rect',silent:true,z:20,shape:{x,y,width:w,height:h},style:{fill:f,stroke:s||null,lineWidth:lw||0}});
const Seg=(x1,y1,x2,y2,c,w,d)=>G.push({type:'line',silent:true,z:20,shape:{x1,y1,x2,y2},style:{stroke:c,lineWidth:w,lineDash:d||null}});
const Arrow=(x1,x2,y,c)=>{const s=x2>x1?1:-1;Seg(x1,y,x2-s*12,y,c,5);G.push({type:'polygon',silent:true,z:20,shape:{points:[[x2,y],[x2-s*14,y-8],[x2-s*14,y+8]]},style:{fill:c}});};

function panel(c){
  const gi=opt.grid.length;
  opt.grid.push({left:c.left,top:c.top,width:c.w,height:c.h,show:false});
  const xi=opt.xAxis.length, yi=opt.yAxis.length;
  const ls=c.labelSize||34;
  const maxV=c.xLabels?c.xLabels[c.xLabels.length-1]:0;
  opt.xAxis.push({type:'value',gridIndex:gi,min:c.xMin,max:c.xMax,z:6,
    axisLine:{show:c.xLine!==false,onZero:false,lineStyle:{color:c.xLineColor||'#000',width:c.xLineW||4}},axisTick:{show:false},splitLine:{show:false},
    axisLabel:{show:!!c.xLabels,customValues:c.xLabels||[],color:'#000',fontFamily:SERIF,fontSize:ls,margin:c.xMargin||11,hideOverlap:false,
      alignMinLabel:c.xEdge?'left':'center',alignMaxLabel:c.xEdge?'right':'center',
      formatter:c.shiftMax?(v=>v===maxV?'{m|'+v+'}':String(v)):(v=>c.enDash?String(v).replace('-','–'):String(v)),
      rich:{m:{fontFamily:SERIF,fontSize:ls,color:'#000',padding:[0,c.shiftMax||0,0,0]}}}});
  opt.yAxis.push({type:'value',gridIndex:gi,min:c.yMin,max:c.yMax,z:6,offset:c.yOffset||0,
    axisLine:{show:c.yLine!==false,onZero:false,lineStyle:{color:'#000',width:c.yLineW||3}},
    axisTick:{show:!!c.yTicks,inside:true,length:7,customValues:c.yTicks||[],lineStyle:{color:'#000',width:4}},splitLine:{show:false},
    axisLabel:{show:!!c.yLabels,customValues:c.yLabels||[],color:'#000',fontFamily:SERIF,fontSize:ls,margin:c.yMargin||14,hideOverlap:false,formatter:fmt,
      verticalAlignMinLabel:c.yEdge?'bottom':'middle',verticalAlignMaxLabel:c.yEdge?'top':'middle'}});
  return {xAxisIndex:xi,yAxisIndex:yi};
}
function line(ax,data,color,width,o={}){
  const s=Object.assign({type:'line',data,showSymbol:false,symbol:'none',silent:true,clip:true,smooth:o.smooth?.35:false,z:o.z||3,zlevel:o.zlevel||0,
    lineStyle:{color,width,type:o.dash||'solid',opacity:o.lineOpacity==null?1:o.lineOpacity}},ax,o.area?{areaStyle:{color:o.area,origin:'start'}}:{});
  opt.series.push(s);
}
function dots(ax,data,color,size){opt.series.push(Object.assign({type:'scatter',data,symbolSize:size,silent:true,itemStyle:{color,opacity:1},z:5},ax));}
function band(ax,rows,color){
  const pts=rows.map(r=>[r[0],r[1]]).concat(rows.slice().reverse().map(r=>[r[0],r[2]]));
  opt.series.push(Object.assign({type:'custom',silent:true,z:2,data:rows,encode:{x:0,y:[1,2]},clip:false,
    renderItem:(p,api)=>p.dataIndex?null:{type:'polygon',shape:{points:pts.map(q=>api.coord(q))},style:{fill:color}}},ax));
}
const fitLine=rows=>rows.map(r=>[r[0],r[1]]);
const fitBand=rows=>rows.map(r=>[r[0],r[2],r[3]]);
function rowRange(r){return {yMin:-(r.bottom-r.y0)/r.unit,yMax:(r.y0-r.top)/r.unit};}
function xRange(d0,d1,w,pl,pr){const s=(w-pl-pr)/(d1-d0);return {xMin:d0-pl/s,xMax:d1+pr/s};}
const LETTER={size:85,bold:true,family:SANS};

// ---- Panel A
{
  const ax=panel({left:158,top:163,w:316,h:315,xMin:-3.02,xMax:3.097,yMin:-.016,yMax:1.016,xLabels:[-3,0,3],yLabels:[0,.5,1],yTicks:[.5],labelSize:38,yMargin:16,yLineW:4,enDash:true,xMargin:9});
  line(ax,[[.04,0],[.04,1]],'#ededed',4,{z:1});
  line(ax,[[-2.9,.5],[3,.5]],'#ededed',4,{z:1});
  dots(ax,aPts,'#e3bcbc',8);
  dots(ax,aOnes.map(x=>[x,1]),'#e3bcbc',8);
  dots(ax,aZeros.map(x=>[x,0]),'#e3bcbc',8);
  band(ax,aBand,'#e0a8a8');
  line(ax,aFit,'#c5504b',6,{smooth:true,z:4});
  T('A',32,71,LETTER);
  T('Behavioral performances',152,78,{size:60,stroke:1});
  T('fraction of choices = Right',48,355,{size:38,rot:Math.PI/2,align:'center'});
  T('Right EV - Left EV',321,561,{size:38,align:'center'});
  Dot(527,186,6,'#e3bcbc');T('data',550,184,{size:38});
  Seg(517,256,537,256,'#c5504b',5);T('sigmoid fit',550,252,{size:38});
  Box(516,308,21,21,'#e0a8a8');T('C.I.',550,319,{size:38});
}
// ---- Panel B
const heatLefts=[925,1247,1569,1891,2213,2536];
const heatIdx=[];
heatLevels.forEach((rows,k)=>{
  const gi=opt.grid.length,L=heatLefts[k],W=293,H=292,Tp=189;
  const framed=k===1||k===3;
  opt.grid.push({left:L,top:Tp,width:W,height:H,show:true,borderWidth:0,backgroundColor:k>3?'#000':'#2a0a24'});
  const xc=opt.xAxis.length,yc=opt.yAxis.length;
  const cats=rows[0].split('').map((_,i)=>i);
  opt.xAxis.push({type:'category',gridIndex:gi,position:'top',data:cats,show:false});
  opt.yAxis.push({type:'category',gridIndex:gi,position:'right',data:rows.map((_,i)=>i),inverse:true,show:false});
  const data=[];
  rows.forEach((s,r)=>s.split('').forEach((ch,cIdx)=>data.push([cIdx,r,+ch])));
  heatIdx.push(opt.series.length);
  opt.series.push({type:'heatmap',xAxisIndex:xc,yAxisIndex:yc,data,silent:true,progressive:0,z:1,zlevel:1,itemStyle:{borderWidth:0},emphasis:{disabled:true}});
  opt.xAxis.push({type:'value',gridIndex:gi,position:'bottom',min:-1,max:1,z:6,axisLine:{show:false},axisTick:{show:false},splitLine:{show:false},
    axisLabel:{customValues:[-1,0,1],color:'#000',fontFamily:SERIF,fontSize:36,margin:10,alignMinLabel:'left',alignMaxLabel:'right',hideOverlap:false}});
  opt.yAxis.push({type:'value',gridIndex:gi,position:'left',min:-1,max:1,z:6,axisLine:{show:false},axisTick:{show:false},splitLine:{show:false},
    axisLabel:{show:k===0,customValues:[-1,0,1],color:'#000',fontFamily:SERIF,fontSize:36,margin:20,hideOverlap:false,verticalAlignMinLabel:'bottom',verticalAlignMaxLabel:'top'}});
  const ax={xAxisIndex:xc+1,yAxisIndex:yc+1};
  line(ax,[[0,-.98],[0,.97]],'rgba(255,255,255,.32)',3,{z:8,zlevel:2});
  line(ax,[[-.99,0],[.98,0]],'rgba(255,255,255,.35)',5,{z:8,zlevel:2});
  G.push({type:'rect',silent:true,z:20,zlevel:2,shape:{x:L,y:Tp,width:W,height:H},style:{fill:null,stroke:framed?'#000':'#cfcfcf',lineWidth:framed?3:1.5}});
  T(bTitles[k],L+146,145,{size:44,italic:true,align:'center'});
});
opt.visualMap.push({type:'continuous',show:false,seriesIndex:heatIdx,dimension:2,min:0,max:9,inRange:{color:heatColors}});
T('B',818,71,LETTER);
T('Heatmap of eye position during task execution',923,80,{size:60,stroke:1});
T('normalized vertical angle (°)',838,338,{size:38,rot:Math.PI/2,align:'center'});
T('normalized horizontal angle (°)',1877,562,{size:38.5,align:'center'});
T('normalized count (x,y)',2473,562,{size:38.5,align:'left'});
T('0',2543,620,{size:36,align:'center'});T('1',2826,620,{size:36,align:'center'});
G.push({type:'rect',silent:true,z:20,shape:{x:2569,y:603,width:227,height:37},style:{stroke:'#000',lineWidth:3,fill:{type:'linear',x:0,y:0,x2:1,y2:0,colorStops:[{offset:0,color:'#6b1a4e'},{offset:.3,color:'#a8322f'},{offset:.55,color:'#e2521a'},{offset:.8,color:'#eea030'},{offset:1,color:'#f2e040'}]}}});

// ---- Panel C
const rC={top:797,bottom:958,y0:955,unit:228};
const bandMag='rgba(235,120,240,.3)', bandCy='rgba(90,255,255,.27)';
cTitles.forEach((t,k)=>{
  T(t,rowLefts[k]+145,718,{size:55,italic:true,align:'center'});
  const ax=panel(Object.assign({left:rowLefts[k],top:rC.top,w:285,h:rC.bottom-rC.top,xLabels:[-3,0,3],yLabels:k?null:[0,.5],yTicks:[.5]},xRange(-3,3,285,5,5),rowRange(rC)));
  line(ax,[[0,rC.yMin],[0,rC.yMax]],'#c9c9c9',2,{z:1});
  band(ax,fitBand(cRightFit[k]),bandCy);
  band(ax,fitBand(cLeftFit[k]),bandMag);
  line(ax,fitLine(cLeftFit[k]),MAG,2.5,{smooth:true});
  line(ax,fitLine(cRightFit[k]),CY,2.5,{smooth:true});
  dots(ax,cLeft[k].map((v,i)=>[evBins[i],v]),MAG,7);
  dots(ax,cRight[k].map((v,i)=>[evBins[i],v]),CY,7);
});
T('C',28,727,LETTER);
T('# gaze drifts',51,875,{size:34,rot:Math.PI/2,align:'center'});
T('Right EV - Left EV',281,1018,{align:'center'});
T('Left',241,808,{align:'center'});T('Right',335,808,{align:'center'});
Arrow(266,194,843,MAG);Arrow(298,370,843,CY);
Dot(583,1037,3.5,MAG);T('midline-crossing gaze drifts directed Left',603,1036);
Seg(1211,1037,1232,1037,MAG,4);T('polynomial fit',1241,1036);
Box(1504,1022,23,28,'#fdd6ff');T('C.I.',1533,1036);
Dot(1794,1037,3.5,CY);T('midline-crossing gaze drifts directed Right',1816,1036);
Seg(2448,1037,2468,1037,CY,4);T('polynomial fit',2477,1036);
Box(2742,1022,25,28,'#d4ffff');T('C.I.',2769,1036);

// ---- Panel D
const rD={top:1098,bottom:1260,y0:1258,unit:385};
dTicks.forEach((tk,k)=>{
  const mx=tk[2];
  const ax=panel(Object.assign({left:rowLefts[k],top:rD.top,w:285,h:rD.bottom-rD.top,xLabels:tk,yLabels:k?null:[0,.2,.4],yTicks:[.2],xMargin:13,shiftMax:k===7?0:28},xRange(0,mx,285,4,k===7?2:1),rowRange(rD)));
  line(ax,dLeftAll[k],MAG,3.5,{area:'rgba(204,51,204,.11)',z:3});
  line(ax,dRightAll[k],CY,3.5,{area:'rgba(51,204,204,.11)',z:3});
  line(ax,dLeftCross[k],MAG,1,{area:'rgba(204,51,204,.78)',z:3,lineOpacity:.6});
  line(ax,dRightCross[k],CY,1,{area:'rgba(51,204,204,.78)',z:3,lineOpacity:.6});
  line(ax,[[tk[1],rD.yMin],[tk[1],rD.yMax]],'rgba(150,150,150,.55)',2,{z:4});
});
T('D',35,1084,LETTER);
T('# gaze drifts',60,1183,{size:34,rot:Math.PI/2,align:'center'});
T('time (ms)',282,1323,{align:'center'});
T('Left',241,1112,{align:'center'});T('Right',335,1112,{align:'center'});
Arrow(266,194,1147,MAG);Arrow(298,370,1147,CY);
Box(609,1333,19,19,'#d15ed4');T('midline-crossing gaze drifts directed Left',637,1341);
Box(1255,1333,18,19,'#f7e8f8',MAG,4);T('all gaze drifts directed Left',1283,1341);
Box(1763,1333,18,19,'#3cc9cc');T('midline-crossing gaze drifts directed Right',1788,1341);
Box(2432,1333,18,19,'#e7f9f9',CY,4);T('all gaze drifts directed Right',2457,1341);

// ---- Panel E
const rE={top:1417,bottom:1579,y0:1576,unit:156};
eDots.forEach((d,k)=>{
  const ax=panel(Object.assign({left:rowLefts[k],top:rE.top,w:285,h:rE.bottom-rE.top,xLabels:[-3,0,3],yLabels:k?null:[0,.5,1],yTicks:[.5],yMargin:16},xRange(-3,3,285,6,6),rowRange(rE)));
  line(ax,[[0,rE.yMin],[0,rE.yMax]],'#c9c9c9',2,{z:1});
  if(k) line(ax,[[-3,eIntercept[k]],[0,eIntercept[k]]],'#bdbdbd',4,{dash:[2,2.5],z:1});
  band(ax,fitBand(eFit[k]),'rgba(90,90,255,.42)');
  line(ax,fitLine(eFit[k]),'#0000ff',3,{smooth:true});
  dots(ax,d.map((v,i)=>[evBins[i],v]),'#0000cc',6.5);
  if(k===4) dots(ax,eStray,'#000033',5);
});
T('E',35,1361,LETTER);
T('tR / (tR + tL)',50,1503,{size:34,rot:Math.PI/2,align:'center'});
T('Right EV - Left EV',281,1647,{align:'center'});
Dot(1187,1658,3.5,'#0000cc');T('data',1209,1658);
Seg(1309,1658,1327,1658,'#0000ff',4);T('sigmoid fit',1334,1658);
Seg(1518,1658,1538,1658,'#bdbdbd',4,[2,2.5]);T('intercept',1545,1658);
Box(1702,1646,19,19,'#b3b3ff');T('C.I.',1730,1658);

// ---- Panel F
const rF={top:1747,bottom:1908,y0:1904,unit:152};
fDots.forEach((d,k)=>{
  const ax=panel(Object.assign({left:rowLefts[k],top:rF.top,w:285,h:rF.bottom-rF.top,xLabels:[-1,0,1],yLabels:k?null:[0,.5,1],yTicks:[.5],yMargin:16},xRange(-1,1,285,4,6),rowRange(rF)));
  line(ax,[[0,rF.yMin],[0,rF.yMax]],'#c9c9c9',2,{z:1});
  band(ax,fBand[k],'rgba(0,170,80,.14)');
  line(ax,fLine[k],'#00a650',k===0?3.5:2.5,{smooth:k!==7});
  dots(ax,d.map((v,i)=>v==null?null:[timeBins[i],v]).filter(Boolean),'#00b050',5.5);
  const bx=rowLefts[k]+27+(k>3?-6:0)+(k===7?-1:0);
  T('β',bx,1750,{size:34});T('1',bx+16,1760,{size:20});T(fBetas[k],bx+27,1750,{size:34});
  const starX=[279,609,953,1298,1647,1991,2333,2685][k];
  T(fStars[k],starX,1731,{size:25,va:'top',bold:true});
});
T('F',36,1674,LETTER);
T('%choices = R',52,1821,{size:34,rot:Math.PI/2,align:'center'});
T('time R - time L',279,1968,{align:'center'});
Dot(1264,1987,3.5,'#00b050');T('data',1286,1989);
Seg(1386,1987,1404,1987,'#00a650',4);T('logistic fit',1411,1987);
Box(1621,1975,19,19,'#dcf2e4');T('C.I.',1647,1987);

// ---- Panel G
const gAxisX=[141,484,828,1170,1514,1857,2199,2543];
gValues.forEach((vals,k)=>{
  const shift=k===7?42:24;
  const gi=opt.grid.length;
  opt.grid.push({left:gAxisX[k]+shift,top:2048,width:210,height:181,show:false});
  const xi=opt.xAxis.length,yi=opt.yAxis.length;
  opt.xAxis.push({type:'category',gridIndex:gi,data:gNames,show:false});
  opt.yAxis.push({type:'value',gridIndex:gi,min:-1.07,max:1.035,offset:shift,z:6,splitLine:{show:false},
    axisLine:{show:true,onZero:false,lineStyle:{color:'#000',width:3}},axisTick:{show:true,inside:true,length:5,customValues:[0],lineStyle:{color:'#000',width:4}},
    axisLabel:{show:k===0,customValues:[-1,0,1],color:'#000',fontFamily:SERIF,fontSize:34,margin:19,hideOverlap:false}});
  opt.series.push({type:'bar',xAxisIndex:xi,yAxisIndex:yi,barWidth:29,silent:true,z:3,
    data:vals.map((v,i)=>{const s=gStars[k][i],below=v<0||s[0]==='v',txt=s.replace('v','');
      return {value:v,itemStyle:{color:gColors[i]},label:{show:!!txt,position:below?'bottom':'top',distance:below?13:0,formatter:txt,fontFamily:SERIF,fontWeight:'bold',fontSize:26,color:'#000'}};})});
});
T('G',32,1992,LETTER);
[[627,663,2270,0],[922,958,2270,1],[1237,1274,2270,2],[1551,1589,2270,3],[1882,1922,2274,4],[2176,2212,2274,5]].forEach(p=>{
  Box(p[0],p[2],18,18,p[3]===4?'#f4b183':gColors[p[3]]);
  T(gNames[p[3]],p[1],2281,{italic:true});
});

echarts.init(document.getElementById('c'),null,{renderer:'canvas'}).setOption(opt);
</script></body></html>
